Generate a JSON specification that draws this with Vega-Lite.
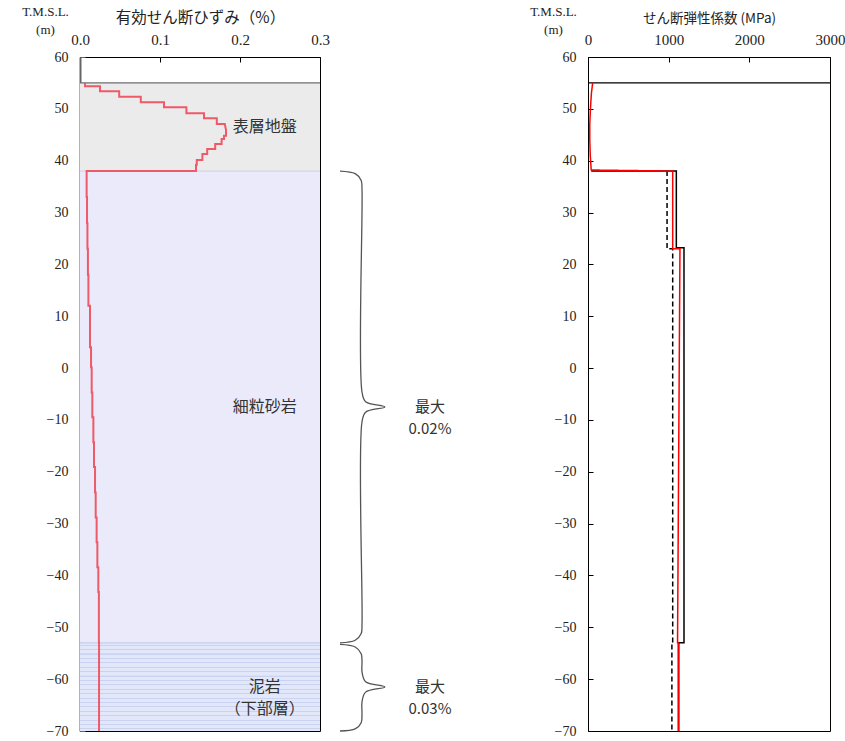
{
  "$schema": "https://vega.github.io/schema/vega-lite/v6.json",
  "padding": {"left": 21, "top": 4, "right": 5, "bottom": 5},
  "background": "white",
  "spacing": 77,
  "resolve": {"scale": {"color": "independent", "fill": "independent", "strokeDash": "independent", "strokeWidth": "independent"}},
  "config": {
    "view": {"stroke": "black", "strokeWidth": 1},
    "axis": {
      "grid": false,
      "labelFont": "Liberation Serif",
      "labelFontSize": 15,
      "labelColor": "#222",
      "labelFlush": false,
      "titleFont": "Noto Sans CJK JP",
      "titleFontWeight": "normal",
      "titleFontSize": 15.5,
      "titleColor": "#222",
      "tickSize": -5,
      "tickColor": "black",
      "domainColor": "black",
      "tickWidth": 1
    },
    "text": {"font": "Noto Sans CJK JP"}
  },
  "datasets": {
    "layers": [
      {"name": "表層地盤", "top": 55, "bottom": 38, "label": "表層地盤", "max": ""},
      {"name": "細粒砂岩", "top": 38, "bottom": -53, "label": "細粒砂岩", "max": "最大\n0.02%"},
      {"name": "泥岩", "top": -53, "bottom": -70, "label": "泥岩\n（下部層）", "max": "最大\n0.03%"}
    ],
    "strain": [
      {"i": 1, "elev": 55, "strain": 0.0063},
      {"i": 2, "elev": 54.34, "strain": 0.0063},
      {"i": 3, "elev": 54.34, "strain": 0.025},
      {"i": 4, "elev": 53.38, "strain": 0.025},
      {"i": 5, "elev": 53.38, "strain": 0.049},
      {"i": 6, "elev": 52.35, "strain": 0.049},
      {"i": 7, "elev": 52.35, "strain": 0.076},
      {"i": 8, "elev": 51.26, "strain": 0.076},
      {"i": 9, "elev": 51.26, "strain": 0.105},
      {"i": 10, "elev": 50.29, "strain": 0.105},
      {"i": 11, "elev": 50.29, "strain": 0.133},
      {"i": 12, "elev": 49.14, "strain": 0.133},
      {"i": 13, "elev": 49.14, "strain": 0.155},
      {"i": 14, "elev": 48.17, "strain": 0.155},
      {"i": 15, "elev": 48.17, "strain": 0.171},
      {"i": 16, "elev": 47.08, "strain": 0.171},
      {"i": 17, "elev": 47.08, "strain": 0.181},
      {"i": 18, "elev": 45.9, "strain": 0.1825},
      {"i": 19, "elev": 44.83, "strain": 0.1825},
      {"i": 20, "elev": 44.83, "strain": 0.18},
      {"i": 21, "elev": 44.19, "strain": 0.18},
      {"i": 22, "elev": 44.19, "strain": 0.177},
      {"i": 23, "elev": 43.2, "strain": 0.177},
      {"i": 24, "elev": 43.2, "strain": 0.169},
      {"i": 25, "elev": 42.26, "strain": 0.169},
      {"i": 26, "elev": 42.26, "strain": 0.159},
      {"i": 27, "elev": 41.3, "strain": 0.159},
      {"i": 28, "elev": 41.3, "strain": 0.153},
      {"i": 29, "elev": 40.14, "strain": 0.153},
      {"i": 30, "elev": 40.14, "strain": 0.146},
      {"i": 31, "elev": 39.23, "strain": 0.146},
      {"i": 32, "elev": 39.23, "strain": 0.145},
      {"i": 33, "elev": 38, "strain": 0.145},
      {"i": 34, "elev": 38, "strain": 0.0083},
      {"i": 35, "elev": 33, "strain": 0.0083},
      {"i": 36, "elev": 33, "strain": 0.0088},
      {"i": 37, "elev": 28, "strain": 0.0088},
      {"i": 38, "elev": 28, "strain": 0.0093},
      {"i": 39, "elev": 23, "strain": 0.0093},
      {"i": 40, "elev": 23, "strain": 0.0099},
      {"i": 41, "elev": 18, "strain": 0.0099},
      {"i": 42, "elev": 18, "strain": 0.0105},
      {"i": 43, "elev": 12, "strain": 0.0105},
      {"i": 44, "elev": 12, "strain": 0.0125},
      {"i": 45, "elev": 4, "strain": 0.0125},
      {"i": 46, "elev": 4, "strain": 0.0138},
      {"i": 47, "elev": 0.15, "strain": 0.0138},
      {"i": 48, "elev": 0.15, "strain": 0.0146},
      {"i": 49, "elev": -4.7, "strain": 0.0146},
      {"i": 50, "elev": -4.7, "strain": 0.0154},
      {"i": 51, "elev": -9.5, "strain": 0.0154},
      {"i": 52, "elev": -9.5, "strain": 0.0167},
      {"i": 53, "elev": -14.3, "strain": 0.0167},
      {"i": 54, "elev": -14.3, "strain": 0.0175},
      {"i": 55, "elev": -19.1, "strain": 0.0175},
      {"i": 56, "elev": -19.1, "strain": 0.0188},
      {"i": 57, "elev": -24, "strain": 0.0188},
      {"i": 58, "elev": -24, "strain": 0.0196},
      {"i": 59, "elev": -28.8, "strain": 0.0196},
      {"i": 60, "elev": -28.8, "strain": 0.0208},
      {"i": 61, "elev": -33.6, "strain": 0.0208},
      {"i": 62, "elev": -33.6, "strain": 0.0217},
      {"i": 63, "elev": -38.4, "strain": 0.0217},
      {"i": 64, "elev": -38.4, "strain": 0.0229},
      {"i": 65, "elev": -43.2, "strain": 0.0229},
      {"i": 66, "elev": -43.2, "strain": 0.0236},
      {"i": 67, "elev": -53, "strain": 0.0236},
      {"i": 68, "elev": -53, "strain": 0.0238},
      {"i": 69, "elev": -70, "strain": 0.0238}
    ],
    "brace": [
      {"g": 1, "i": 1, "elev": 38, "off": 0.325},
      {"g": 1, "i": 2, "elev": 37.5, "off": 0.344},
      {"g": 1, "i": 3, "elev": 36.2, "off": 0.3515},
      {"g": 1, "i": 4, "elev": 34.5, "off": 0.3525},
      {"g": 1, "i": 5, "elev": -4.6, "off": 0.3525},
      {"g": 1, "i": 6, "elev": -6.5, "off": 0.357},
      {"g": 1, "i": 7, "elev": -7.5, "off": 0.381},
      {"g": 1, "i": 8, "elev": -8.5, "off": 0.357},
      {"g": 1, "i": 9, "elev": -10.4, "off": 0.3525},
      {"g": 1, "i": 10, "elev": -49.5, "off": 0.3525},
      {"g": 1, "i": 11, "elev": -51.2, "off": 0.3515},
      {"g": 1, "i": 12, "elev": -52.5, "off": 0.344},
      {"g": 1, "i": 13, "elev": -53, "off": 0.325},
      {"g": 2, "i": 1, "elev": -53.3, "off": 0.325},
      {"g": 2, "i": 2, "elev": -53.8, "off": 0.344},
      {"g": 2, "i": 3, "elev": -55.1, "off": 0.3515},
      {"g": 2, "i": 4, "elev": -56.8, "off": 0.3525},
      {"g": 2, "i": 5, "elev": -58.6, "off": 0.3525},
      {"g": 2, "i": 6, "elev": -60.5, "off": 0.357},
      {"g": 2, "i": 7, "elev": -61.5, "off": 0.381},
      {"g": 2, "i": 8, "elev": -62.5, "off": 0.357},
      {"g": 2, "i": 9, "elev": -64.4, "off": 0.3525},
      {"g": 2, "i": 10, "elev": -66.7, "off": 0.3525},
      {"g": 2, "i": 11, "elev": -68.4, "off": 0.3515},
      {"g": 2, "i": 12, "elev": -69.6, "off": 0.344},
      {"g": 2, "i": 13, "elev": -70, "off": 0.325}
    ],
    "modulus": [
      {"series": "dashed", "i": 1, "elev": 38, "G": 980},
      {"series": "dashed", "i": 2, "elev": 23, "G": 980},
      {"series": "dashed", "i": 3, "elev": 23, "G": 1050},
      {"series": "dashed", "i": 4, "elev": -53, "G": 1050},
      {"series": "dashed", "i": 5, "elev": -53, "G": 1040},
      {"series": "dashed", "i": 6, "elev": -70, "G": 1040},
      {"series": "initial", "i": 1, "elev": 38, "G": 40},
      {"series": "initial", "i": 2, "elev": 38, "G": 1095},
      {"series": "initial", "i": 3, "elev": 23.2, "G": 1095},
      {"series": "initial", "i": 4, "elev": 23.2, "G": 1190},
      {"series": "initial", "i": 5, "elev": -53, "G": 1190},
      {"series": "initial", "i": 6, "elev": -53, "G": 1125},
      {"series": "initial", "i": 7, "elev": -70, "G": 1125},
      {"series": "after", "i": 1, "elev": 55, "G": 58},
      {"series": "after", "i": 2, "elev": 53, "G": 42},
      {"series": "after", "i": 3, "elev": 50, "G": 30},
      {"series": "after", "i": 4, "elev": 47, "G": 22},
      {"series": "after", "i": 5, "elev": 44, "G": 22},
      {"series": "after", "i": 6, "elev": 41, "G": 28},
      {"series": "after", "i": 7, "elev": 38.2, "G": 40},
      {"series": "after", "i": 8, "elev": 38, "G": 1050},
      {"series": "after", "i": 9, "elev": 23, "G": 1050},
      {"series": "after", "i": 10, "elev": 23, "G": 1140},
      {"series": "after", "i": 11, "elev": -53, "G": 1110},
      {"series": "after", "i": 12, "elev": -53, "G": 1118},
      {"series": "after", "i": 13, "elev": -70, "G": 1118}
    ]
  },
  "hconcat": [
    {
      "width": 240,
      "height": 674,
      "layer": [
        {
          "data": {"name": "layers"},
          "transform": [{"filter": "datum.name != '泥岩'"}],
          "mark": {"type": "rect"},
          "encoding": {
            "x": {"datum": 0, "type": "quantitative",
              "scale": {"domain": [0, 0.3], "nice": false, "zero": false},
              "axis": {"orient": "top", "values": [0, 0.1, 0.2, 0.3], "format": ".1f", "title": "有効せん断ひずみ（%）", "labelPadding": 15, "titlePadding": 7}},
            "x2": {"datum": 0.3},
            "y": {"field": "top", "type": "quantitative",
              "scale": {"domain": [-70, 60], "nice": false, "zero": false},
              "axis": {"values": [60, 50, 40, 30, 20, 10, 0, -10, -20, -30, -40, -50, -60, -70], "labelFontSize": 14, "title": ["T.M.S.L.", "(m)"], "titleFont": "Liberation Serif", "titleFontSize": 13, "titleAngle": 0, "titleAlign": "center", "titleBaseline": "top", "titleLineHeight": 18, "titleX": -35, "titleY": -52, "labelPadding": 17, "domainColor": "#666", "domainWidth": 2, "tickColor": "#666"}},
            "y2": {"field": "bottom"},
            "fill": {"field": "name", "type": "nominal", "scale": {"domain": ["表層地盤", "細粒砂岩"], "range": ["#ebebeb", "#eaeafb"]}, "legend": null}
          }
        },
        {
          "data": {"name": "layers"},
          "transform": [{"filter": "datum.name == '泥岩'"}],
          "mark": {"type": "rect", "fill": {"gradient": "linear", "x1": 0, "y1": 0, "x2": 0, "y2": 1, "stops": [
            {"offset": 0, "color": "#e2e8f9"},
            {"offset": 0.020, "color": "#e2e8f9"}, {"offset": 0.021, "color": "#c9d3f1"}, {"offset": 0.032, "color": "#c9d3f1"}, {"offset": 0.033, "color": "#e2e8f9"},
            {"offset": 0.070, "color": "#e2e8f9"}, {"offset": 0.071, "color": "#c9d3f1"}, {"offset": 0.082, "color": "#c9d3f1"}, {"offset": 0.083, "color": "#e2e8f9"},
            {"offset": 0.120, "color": "#e2e8f9"}, {"offset": 0.121, "color": "#c9d3f1"}, {"offset": 0.132, "color": "#c9d3f1"}, {"offset": 0.133, "color": "#e2e8f9"},
            {"offset": 0.170, "color": "#e2e8f9"}, {"offset": 0.171, "color": "#c9d3f1"}, {"offset": 0.182, "color": "#c9d3f1"}, {"offset": 0.183, "color": "#e2e8f9"},
            {"offset": 0.220, "color": "#e2e8f9"}, {"offset": 0.221, "color": "#c9d3f1"}, {"offset": 0.232, "color": "#c9d3f1"}, {"offset": 0.233, "color": "#e2e8f9"},
            {"offset": 0.270, "color": "#e2e8f9"}, {"offset": 0.271, "color": "#c9d3f1"}, {"offset": 0.282, "color": "#c9d3f1"}, {"offset": 0.283, "color": "#e2e8f9"},
            {"offset": 0.320, "color": "#e2e8f9"}, {"offset": 0.321, "color": "#c9d3f1"}, {"offset": 0.332, "color": "#c9d3f1"}, {"offset": 0.333, "color": "#e2e8f9"},
            {"offset": 0.370, "color": "#e2e8f9"}, {"offset": 0.371, "color": "#c9d3f1"}, {"offset": 0.382, "color": "#c9d3f1"}, {"offset": 0.383, "color": "#e2e8f9"},
            {"offset": 0.420, "color": "#e2e8f9"}, {"offset": 0.421, "color": "#c9d3f1"}, {"offset": 0.432, "color": "#c9d3f1"}, {"offset": 0.433, "color": "#e2e8f9"},
            {"offset": 0.470, "color": "#e2e8f9"}, {"offset": 0.471, "color": "#c9d3f1"}, {"offset": 0.482, "color": "#c9d3f1"}, {"offset": 0.483, "color": "#e2e8f9"},
            {"offset": 0.520, "color": "#e2e8f9"}, {"offset": 0.521, "color": "#c9d3f1"}, {"offset": 0.532, "color": "#c9d3f1"}, {"offset": 0.533, "color": "#e2e8f9"},
            {"offset": 0.570, "color": "#e2e8f9"}, {"offset": 0.571, "color": "#c9d3f1"}, {"offset": 0.582, "color": "#c9d3f1"}, {"offset": 0.583, "color": "#e2e8f9"},
            {"offset": 0.620, "color": "#e2e8f9"}, {"offset": 0.621, "color": "#c9d3f1"}, {"offset": 0.632, "color": "#c9d3f1"}, {"offset": 0.633, "color": "#e2e8f9"},
            {"offset": 0.670, "color": "#e2e8f9"}, {"offset": 0.671, "color": "#c9d3f1"}, {"offset": 0.682, "color": "#c9d3f1"}, {"offset": 0.683, "color": "#e2e8f9"},
            {"offset": 0.720, "color": "#e2e8f9"}, {"offset": 0.721, "color": "#c9d3f1"}, {"offset": 0.732, "color": "#c9d3f1"}, {"offset": 0.733, "color": "#e2e8f9"},
            {"offset": 0.770, "color": "#e2e8f9"}, {"offset": 0.771, "color": "#c9d3f1"}, {"offset": 0.782, "color": "#c9d3f1"}, {"offset": 0.783, "color": "#e2e8f9"},
            {"offset": 0.820, "color": "#e2e8f9"}, {"offset": 0.821, "color": "#c9d3f1"}, {"offset": 0.832, "color": "#c9d3f1"}, {"offset": 0.833, "color": "#e2e8f9"},
            {"offset": 0.870, "color": "#e2e8f9"}, {"offset": 0.871, "color": "#c9d3f1"}, {"offset": 0.882, "color": "#c9d3f1"}, {"offset": 0.883, "color": "#e2e8f9"},
            {"offset": 0.920, "color": "#e2e8f9"}, {"offset": 0.921, "color": "#c9d3f1"}, {"offset": 0.932, "color": "#c9d3f1"}, {"offset": 0.933, "color": "#e2e8f9"},
            {"offset": 0.970, "color": "#e2e8f9"}, {"offset": 0.971, "color": "#c9d3f1"}, {"offset": 0.982, "color": "#c9d3f1"}, {"offset": 0.983, "color": "#e2e8f9"},
            {"offset": 1, "color": "#e2e8f9"}
          ]}},
          "encoding": {
            "x": {"datum": 0, "type": "quantitative"},
            "x2": {"datum": 0.3},
            "y": {"field": "top", "type": "quantitative"},
            "y2": {"field": "bottom"}
          }
        },
        {
          "data": {"name": "layers"},
          "mark": {"type": "rule", "strokeWidth": 1.2},
          "encoding": {
            "x": {"datum": 0, "type": "quantitative"},
            "x2": {"datum": 0.3},
            "y": {"field": "top", "type": "quantitative"},
            "color": {"field": "name", "type": "nominal", "scale": {"domain": ["表層地盤", "細粒砂岩", "泥岩"], "range": ["#6e6e6e", "#d6d6e6", "#c4ceee"]}, "legend": null}
          }
        },
        {
          "data": {"name": "strain"},
          "mark": {"type": "line", "color": "#ee5a68", "strokeWidth": 2},
          "encoding": {
            "x": {"field": "strain", "type": "quantitative"},
            "y": {"field": "elev", "type": "quantitative"},
            "order": {"field": "i", "type": "quantitative"}
          }
        },
        {
          "data": {"name": "layers"},
          "transform": [{"calculate": "(datum.top + datum.bottom) / 2", "as": "mid"}],
          "mark": {"type": "text", "fontSize": 16, "color": "#333", "lineBreak": "\n", "lineHeight": 22, "align": "center", "baseline": "middle"},
          "encoding": {
            "x": {"datum": 0.231, "type": "quantitative"},
            "y": {"field": "mid", "type": "quantitative"},
            "text": {"field": "label"}
          }
        },
        {
          "data": {"name": "brace"},
          "mark": {"type": "line", "color": "#555", "strokeWidth": 1.3, "interpolate": "catmull-rom", "clip": false},
          "encoding": {
            "x": {"field": "off", "type": "quantitative"},
            "y": {"field": "elev", "type": "quantitative"},
            "detail": {"field": "g"},
            "order": {"field": "i", "type": "quantitative"}
          }
        },
        {
          "data": {"name": "layers"},
          "transform": [{"filter": "datum.max != ''"}, {"calculate": "(datum.top + datum.bottom) / 2", "as": "mid"}],
          "mark": {"type": "text", "fontSize": 15, "color": "#333", "lineBreak": "\n", "lineHeight": 22, "align": "center", "baseline": "middle"},
          "encoding": {
            "x": {"datum": 0.4375, "type": "quantitative"},
            "y": {"field": "mid", "type": "quantitative"},
            "text": {"field": "max"}
          }
        }
      ]
    },
    {
      "width": 242,
      "height": 674,
      "layer": [
        {
          "data": {"name": "layers"},
          "transform": [{"filter": "datum.name == '表層地盤'"}],
          "mark": {"type": "rule", "color": "black", "strokeWidth": 1.2},
          "encoding": {
            "x": {"datum": 0, "type": "quantitative",
              "scale": {"domain": [0, 3000], "nice": false, "zero": false},
              "axis": {"orient": "top", "values": [0, 1000, 2000, 3000], "format": "d", "title": "せん断弾性係数 (MPa)", "titleFontSize": 13.5, "labelPadding": 15, "titlePadding": 7}},
            "x2": {"datum": 3000},
            "y": {"field": "top", "type": "quantitative",
              "scale": {"domain": [-70, 60], "nice": false, "zero": false},
              "axis": {"values": [60, 50, 40, 30, 20, 10, 0, -10, -20, -30, -40, -50, -60, -70], "labelFontSize": 14, "title": ["T.M.S.L.", "(m)"], "titleFont": "Liberation Serif", "titleFontSize": 13, "titleAngle": 0, "titleAlign": "center", "titleBaseline": "top", "titleLineHeight": 18, "titleX": -35, "titleY": -52, "labelPadding": 17}}
          }
        },
        {
          "data": {"name": "modulus"},
          "mark": {"type": "line"},
          "encoding": {
            "x": {"field": "G", "type": "quantitative"},
            "y": {"field": "elev", "type": "quantitative"},
            "detail": {"field": "series"},
            "order": {"field": "i", "type": "quantitative"},
            "color": {"field": "series", "type": "nominal", "scale": {"domain": ["dashed", "initial", "after"], "range": ["black", "black", "#ff0000"]}, "legend": null},
            "strokeDash": {"field": "series", "type": "nominal", "scale": {"domain": ["dashed", "initial", "after"], "range": [[5, 3], [1, 0], [1, 0]]}, "legend": null},
            "strokeWidth": {"field": "series", "type": "nominal", "scale": {"domain": ["dashed", "initial", "after"], "range": [1.5, 1.5, 2.5]}, "legend": null}
          }
        }
      ]
    }
  ]
}
